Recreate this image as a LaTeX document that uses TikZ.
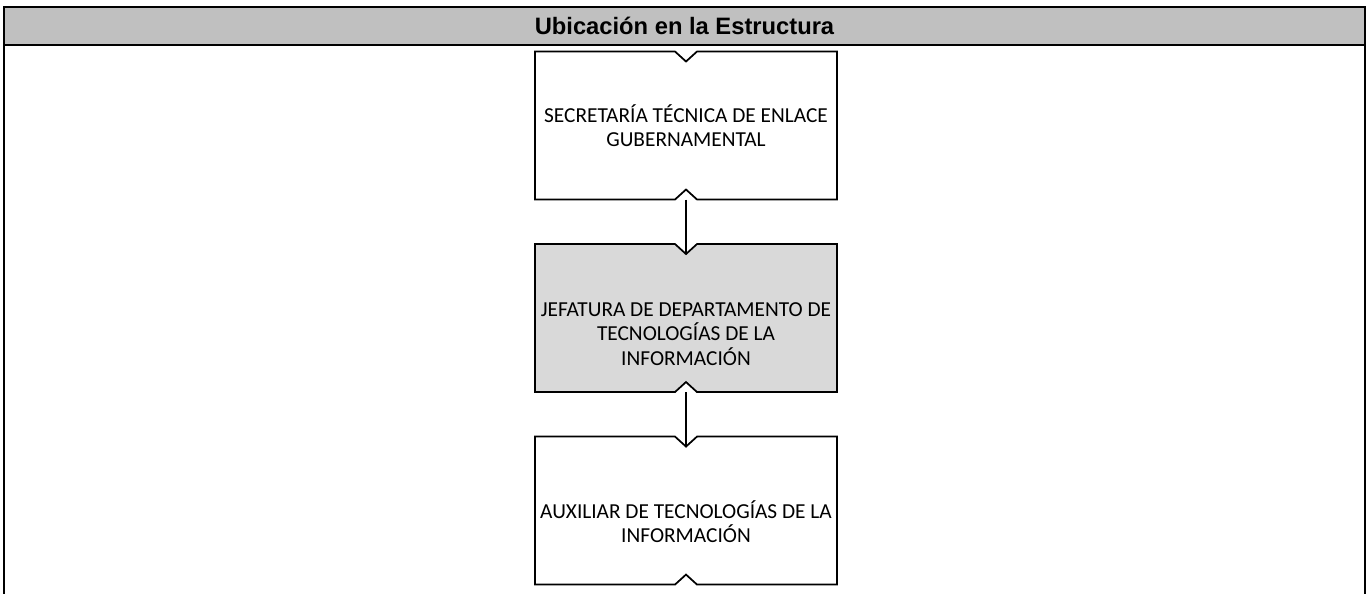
\documentclass[tikz,border=0pt]{standalone}
\usepackage{fontspec}
\setmainfont{Carlito}
\newfontfamily\arialfont{Liberation Sans}
\usetikzlibrary{positioning,calc,backgrounds}
\definecolor{headfill}{HTML}{C0C0C0}
\definecolor{bossfill}{HTML}{D9D9D9}
\definecolor{inkline}{HTML}{000000}

% notched outline round a unit node
\newcommand{\notchbox}[2]{%
  \draw[#1] (#2.north west) -- ($(#2.north)+(-11,0)$) -- ($(#2.north)+(0,10)$)
    -- ($(#2.north)+(11,0)$) -- (#2.north east) -- (#2.south east)
    -- ($(#2.south)+(11,0)$) -- ($(#2.south)+(0,-10)$) -- ($(#2.south)+(-11,0)$)
    -- (#2.south west) -- cycle;}

\begin{document}
\begin{tikzpicture}[
  x=0.75pt, y=-0.75pt,
  unit/.style   = {minimum width=226.5pt, minimum height=111pt, inner sep=0pt, outer sep=0pt},
  shell/.style  = {draw=inkline, line width=1.3pt, line join=miter, fill=white},
  boss/.style   = {shell, fill=bossfill},
  txt/.style    = {align=center, inner sep=0pt, font=\fontsize{16}{18.4}\selectfont},
  header/.style = {draw=inkline, fill=headfill, line width=1.5pt, inner sep=0pt, outer sep=0pt,
                   minimum width=1020.75pt, minimum height=28.5pt,
                   font=\arialfont\bfseries\fontsize{17.8}{20}\selectfont},
  frame/.style  = {draw=inkline, line width=1.5pt},
  link/.style   = {draw=inkline, line width=0.8pt},
]
\useasboundingbox (0,0) rectangle (1366,594);

% ---------- units ----------------------------------------------------------
\node[unit] (sec) at (686,125.5) {};
\node[unit, below=33.4pt of sec] (jef) {};
\node[unit, below=33.4pt of jef] (aux) {};

\notchbox{shell}{sec}
\notchbox{boss}{jef}
\notchbox{shell}{aux}

\draw[link] (sec.south) -- ($(jef.north)+(0,10)$);
\draw[link] (jef.south) -- ($(aux.north)+(0,10)$);

\node[txt] (sec-t) at ($(sec.center)+(0,0)$) {SECRETARÍA TÉCNICA DE ENLACE\\GUBERNAMENTAL};
\node[txt] (jef-t) at ($(jef.center)+(0,16)$) {JEFATURA DE DEPARTAMENTO DE\\TECNOLOGÍAS DE LA\\INFORMACIÓN};
\node[txt] (aux-t) at ($(aux.center)+(0,11)$) {AUXILIAR DE TECNOLOGÍAS DE LA\\INFORMACIÓN};

% ---------- frame and header -----------------------------------------------
\coordinate (fl) at (4,594);
\coordinate (fr) at (1365,594);
\node[header] (hdr) at (684.5,26) {Ubicación en la Estructura};
\draw[frame] (hdr.south west) -- (fl);
\draw[frame] (hdr.south east) -- (fr);

\end{tikzpicture}
\end{document}
